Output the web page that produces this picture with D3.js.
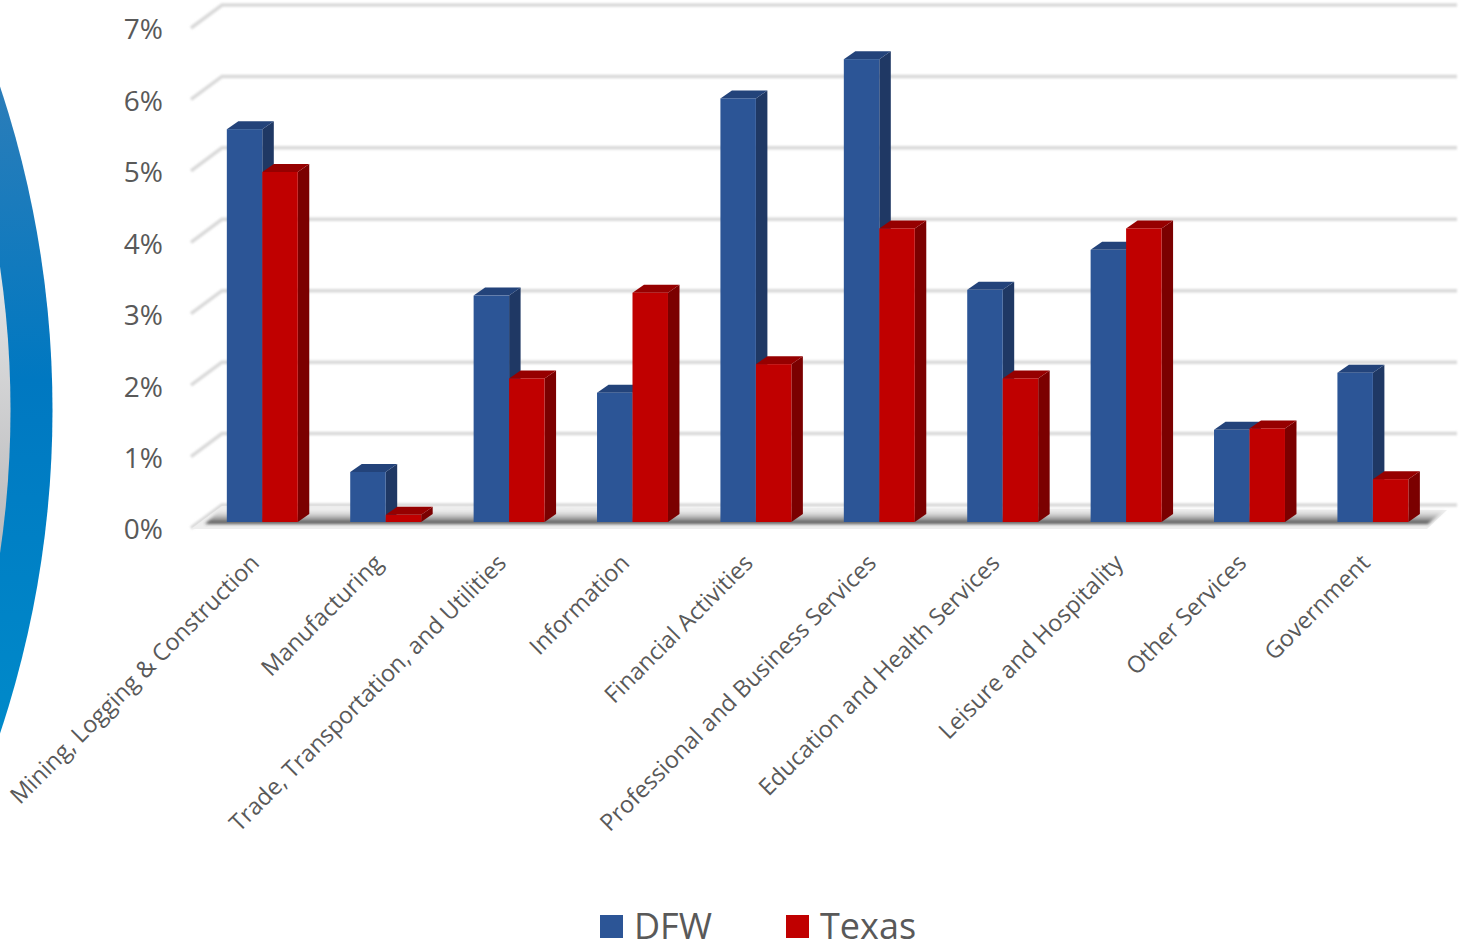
<!DOCTYPE html>
<html>
<head>
<meta charset="utf-8">
<title>DFW vs Texas</title>
<script src="https://d3js.org/d3.v7.min.js"></script>
<style>
  html, body { margin: 0; padding: 0; background: #fff; overflow: hidden; }
  text { font-family: "Open Sans", sans-serif; fill: #595959; }
</style>
</head>
<body>
<div id="chart"></div>
<script>
const categories = ["Mining, Logging & Construction", "Manufacturing", "Trade, Transportation, and Utilities",
  "Information", "Financial Activities", "Professional and Business Services", "Education and Health Services",
  "Leisure and Hospitality", "Other Services", "Government"];
const seriesNames = ["DFW", "Texas"];
const dfw = [5.5, 0.7, 3.17, 1.81, 5.93, 6.48, 3.25, 3.81, 1.29, 2.09];
const texas = [4.9, 0.1, 2.01, 3.21, 2.21, 4.11, 2.01, 4.11, 1.31, 0.6];
const yTicks = [0, 1, 2, 3, 4, 5, 6, 7];

const colors = {
  DFW: {front: "#2c5596", top: "#23437a", side: "#1f3864"},
  Texas: {front: "#c00000", top: "#960000", side: "#7b0000"}
};
const depthX = 11.5, depthY = -8;

const svg = d3.select("#chart").append("svg").attr("width", 1460).attr("height", 951);
const defs = svg.append("defs");

const ringGrad = defs.append("linearGradient").attr("id", "ring").attr("gradientUnits", "userSpaceOnUse")
  .attr("x1", 0).attr("x2", 0).attr("y1", 90).attr("y2", 735);
ringGrad.append("stop").attr("offset", "0%").attr("stop-color", "#2b7db9");
ringGrad.append("stop").attr("offset", "45%").attr("stop-color", "#0078c1");
ringGrad.append("stop").attr("offset", "100%").attr("stop-color", "#008aca");
const coreGrad = defs.append("linearGradient").attr("id", "core").attr("gradientUnits", "userSpaceOnUse")
  .attr("x1", 0).attr("x2", 0).attr("y1", 260).attr("y2", 560);
coreGrad.append("stop").attr("offset", "0%").attr("stop-color", "#e4e5e6");
coreGrad.append("stop").attr("offset", "100%").attr("stop-color", "#b8b8ba");
const floorGrad = defs.append("linearGradient").attr("id", "floor").attr("x1", 0).attr("x2", 0).attr("y1", 1).attr("y2", 0);
floorGrad.append("stop").attr("offset", "0%").attr("stop-color", "#3c3c3c").attr("stop-opacity", 1);
floorGrad.append("stop").attr("offset", "100%").attr("stop-color", "#fff").attr("stop-opacity", 0.1);
const soft = defs.append("filter").attr("id", "soft").attr("x", "-5%").attr("y", "-50%").attr("width", "110%").attr("height", "200%");
soft.append("feGaussianBlur").attr("stdDeviation", 0.8);
const softer = defs.append("filter").attr("id", "softer").attr("x", "-5%").attr("y", "-50%").attr("width", "110%").attr("height", "200%");
softer.append("feGaussianBlur").attr("stdDeviation", 1.4);

// ring on the left edge
svg.append("circle").attr("cx", -970.5).attr("cy", 410).attr("r", 1023)
  .attr("fill", "url(#ring)");
svg.append("circle").attr("cx", -970.5).attr("cy", 410).attr("r", 981)
  .attr("fill", "url(#core)");

const x0 = d3.scaleBand().domain(categories).range([200.6, 1434.6]).paddingInner(0.425).paddingOuter(0.2125);
const x1 = d3.scaleBand().domain(seriesNames).range([0, x0.bandwidth()]);
const y = d3.scaleLinear().domain([0, 7]).range([522, 22]);
const wallDx = 31, wallDy = -23;

const plotRight = 1457;
const grid = svg.append("g").attr("filter", "url(#soft)");
yTicks.forEach(function (t) {
  const yy = y(t) + 6;
  grid.append("path")
    .attr("d", "M" + 191 + "," + yy + "L" + (191 + wallDx) + "," + (yy + wallDy) + "L" + plotRight + "," + (yy + wallDy))
    .attr("fill", "none").attr("stroke", "#d9d9d9").attr("stroke-width", 3.5);
});

// floor with the shadow under the bars
svg.append("path")
  .attr("d", "M191,529L222,506L1447,510L1427,529Z")
  .attr("fill", "#eeeeee");
svg.append("path")
  .attr("d", "M205,524L222,508L1447,509L1428,524Z")
  .attr("fill", "url(#floor)").attr("filter", "url(#softer)");
svg.append("path")
  .attr("d", "M191,528.5L1427,528.5")
  .attr("stroke", "#d2d2d2").attr("stroke-width", 3).attr("filter", "url(#soft)");

const rows = categories.map(function (c, i) {
  return [{cat: c, name: "DFW", value: dfw[i]}, {cat: c, name: "Texas", value: texas[i]}];
});

const groups = svg.append("g").selectAll("g").data(rows).enter().append("g")
  .attr("transform", function (d) { return "translate(" + x0(d[0].cat) + ",0)"; });

const bars = groups.selectAll("g").data(function (d) { return d; }).enter().append("g");

// side
bars.append("path")
  .attr("d", function (d) {
    const r = x1(d.name) + x1.bandwidth();
    return "M" + r + "," + y(d.value) + "l" + depthX + "," + depthY + "V" + (y(0) + depthY) + "l" + (-depthX) + "," + (-depthY) + "Z";
  })
  .attr("fill", function (d) { return colors[d.name].side; });
// top
bars.append("path")
  .attr("d", function (d) {
    const l = x1(d.name);
    return "M" + l + "," + y(d.value) + "l" + depthX + "," + depthY + "h" + x1.bandwidth() + "l" + (-depthX) + "," + (-depthY) + "Z";
  })
  .attr("fill", function (d) { return colors[d.name].top; });
// front
bars.append("rect")
  .attr("x", function (d) { return x1(d.name); })
  .attr("y", function (d) { return y(d.value); })
  .attr("width", x1.bandwidth())
  .attr("height", function (d) { return y(0) - y(d.value); })
  .attr("fill", function (d) { return colors[d.name].front; });

// y axis
const yAxis = d3.axisLeft(y).tickValues(yTicks).tickSize(0).tickPadding(0)
  .tickFormat(function (d) { return d + "%"; });
const yG = svg.append("g").attr("transform", "translate(163,8)").call(yAxis);
yG.select(".domain").remove();
yG.selectAll("text").style("font-size", "28px").style("font-family", "'Open Sans', sans-serif").attr("fill", "#595959");

// x axis
const xAxis = d3.axisBottom(x0).tickSize(0);
const xG = svg.append("g").attr("transform", "translate(-13,553)").call(xAxis);
xG.select(".domain").remove();
xG.selectAll("text")
  .style("font-size", "23.4px").style("font-family", "'Open Sans', sans-serif").attr("fill", "#595959")
  .attr("text-anchor", "end")
  .attr("dy", "0.35em").attr("y", 8)
  .attr("transform", "rotate(-45)");

// legend
const legend = svg.append("g");
const legendX = d3.scaleOrdinal().domain(seriesNames).range([600, 786]);
seriesNames.forEach(function (n) {
  legend.append("rect").attr("x", legendX(n)).attr("y", 915).attr("width", 23).attr("height", 23)
    .attr("fill", colors[n].front);
  legend.append("text").attr("x", legendX(n) + 34).attr("y", 939).style("font-size", "36px").text(n);
});
</script>
</body>
</html>
